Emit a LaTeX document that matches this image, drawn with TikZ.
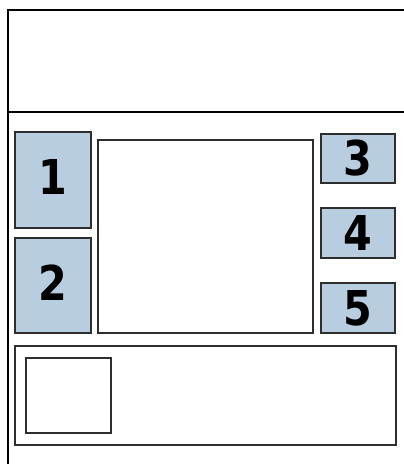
\documentclass[tikz,border=0pt]{standalone}
\usepackage{fontspec}
\setsansfont[FakeStretch=0.86]{DejaVu Sans}
\usepackage{tikz}
\usetikzlibrary{positioning}
\definecolor{Pane}{HTML}{B9CDE1}
\definecolor{Edge}{HTML}{2E2E2E}

\begin{document}
\begin{tikzpicture}[x=1pt,y=-1pt,
  frame/.style={line width=1.6pt,color=black},
  panel/.style={draw=Edge,line width=1.3pt,fill=white,inner sep=0pt},
  slot/.style={panel,fill=Pane,font=\sffamily\bfseries\fontsize{48}{48}\selectfont}
]
\useasboundingbox (0,0) rectangle (404,464);
% Page frame and header rule.
\draw[frame] (404,10)--(8,10)--(8,464);
\draw[frame] (8,112)--(404,112);

% Left column.
\node[slot,text depth=6pt,minimum width=76pt,minimum height=96pt] (one) at (53,180) {1};
\node[slot,text depth=6pt,minimum width=76pt,minimum height=95pt] (two) at (53,285.5) {2};

% Centre panel.
\node[panel,minimum width=215pt,minimum height=193pt] (main) at (205.5,236.5) {};

% Right column.
\node[slot,minimum width=74pt,minimum height=49pt] (three) at (358,158.5) {3};
\node[slot,minimum width=74pt,minimum height=50pt] (four) at (358,233) {4};
\node[slot,minimum width=74pt,minimum height=50pt] (five) at (358,308) {5};

% Footer strip.
\node[panel,minimum width=381pt,minimum height=99pt] (foot) at (205.5,395.5) {};
\node[panel,minimum width=85pt,minimum height=75pt] (thumb) at (68.5,395.5) {};
\end{tikzpicture}
\end{document}
